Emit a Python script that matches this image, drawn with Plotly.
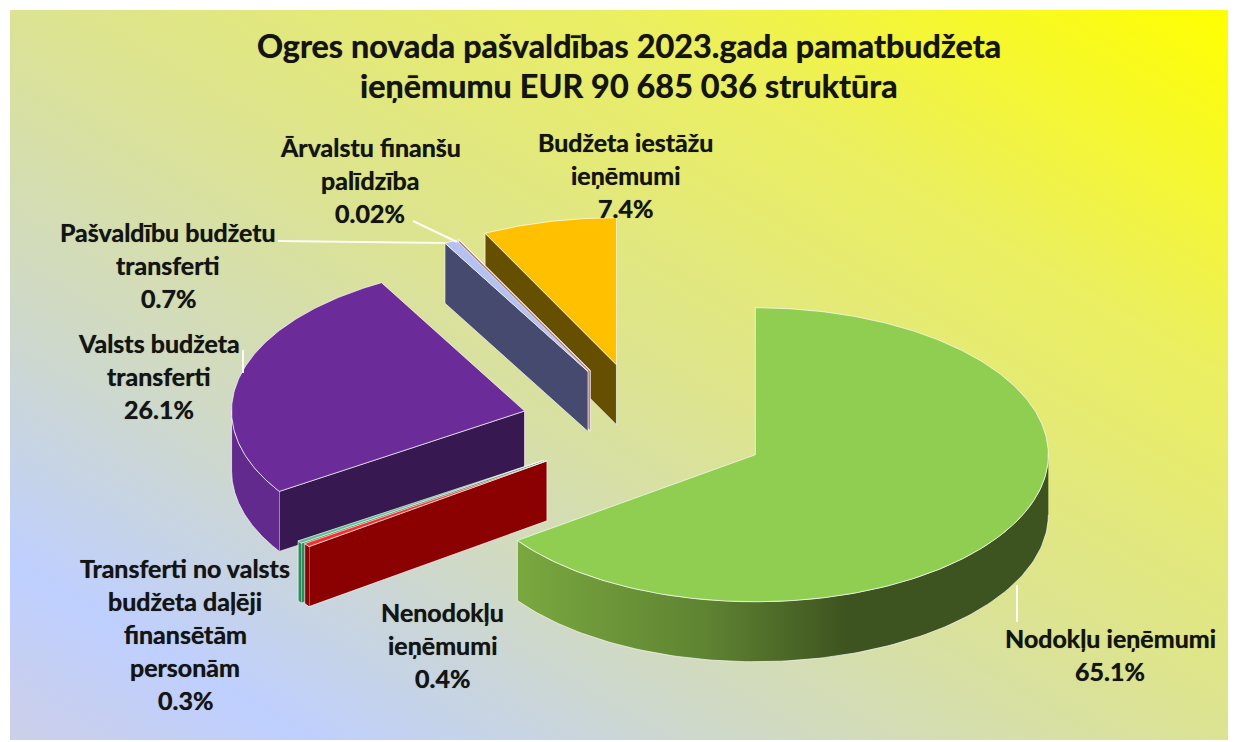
import base64
import numpy as np
import plotly.graph_objects as go

# ---- data (clockwise from 12 o'clock) ----
categories = ["Nodokļu ieņēmumi", "Nenodokļu ieņēmumi",
              "Transferti no valsts budžeta daļēji finansētām personām",
              "Valsts budžeta transferti", "Pašvaldību budžetu transferti",
              "Ārvalstu finanšu palīdzība", "Budžeta iestāžu ieņēmumi"]
percent = [65.1, 0.4, 0.3, 26.1, 0.7, 0.02, 7.4]
explode_scale = [1, 0.965, 0.985, 1, 0.98, 0.98, 1]
top_colors = ["#8fce50", "#ff2b2b", "#5cc08c", "#6b2c9a", "#b4c2f2", "#c89090", "#ffc000"]
face_colors = ["#3e5420", "#8b0000", "#2f8a5c", "#381850", "#464a6e", "#b08080", "#665000"]
rim_colors = ["#7aa83f", "#8b0000", "#2f8a5c", "#622a8c", "#464a6e", "#b08080", "#665000"]
draw_order = [6, 5, 4, 3, 2, 1, 0]

title_lines = ["Ogres novada pašvaldības 2023.gada pamatbudžeta",
               "ieņēmumu EUR 90 685 036 struktūra"]
label_lines = [
    (["Nodokļu ieņēmumi", "65.1%"], 1110, 638),
    (["Nenodokļu", "ieņēmumi", "0.4%"], 442, 612),
    (["Transferti no valsts", "budžeta daļēji", "finansētām", "personām", "0.3%"], 185, 568),
    (["Valsts budžeta", "transferti", "26.1%"], 159, 343),
    (["Pašvaldību budžetu", "transferti", "0.7%"], 168, 232),
    (["Ārvalstu finanšu", "palīdzība", "0.02%"], 370, 147),
    (["Budžeta iestāžu", "ieņēmumi", "7.4%"], 625, 142),
]
leaders = [((1017, 1017), (585, 622)), ((243, 243), (350, 373)),
           ((278, 445), (241, 243)), ((413, 457), (221, 242))]

# ---- projection of the tilted pie ----
CX, CY = 645, 426
RX, RY = 293, 147
EX, EY = 124, 63
DEPTH = 60
LINE = "rgba(255,255,255,0.65)"
TEXT_SHADOW = "0 0 0.7px rgba(20,20,20,0.8)"

fractions = np.array(percent) / sum(percent)
ends = np.cumsum(fractions) * 2 * np.pi
starts = ends - fractions * 2 * np.pi

fig = go.Figure()


def poly(xs, ys, color=None, gradient=None):
    kw = dict(fillgradient=gradient) if gradient else dict(fillcolor=color)
    fig.add_trace(go.Scatter(x=list(xs), y=list(ys), mode="lines", fill="toself",
                             line=dict(color=LINE, width=1), hoverinfo="skip",
                             showlegend=False, **kw))


for i in draw_order:
    a0, a1 = starts[i], ends[i]
    mid = (a0 + a1) / 2
    cx = CX + EX * explode_scale[i] * np.sin(mid)
    cy = CY - EY * explode_scale[i] * np.cos(mid)
    px = lambda a: cx + RX * np.sin(a)
    py = lambda a: cy - RY * np.cos(a)
    # cut face at the start edge
    if np.sin(a0) < 0:
        poly([cx, px(a0), px(a0), cx, cx],
             [cy, py(a0), py(a0) + DEPTH, cy + DEPTH, cy], face_colors[i])
    # cut face at the end edge
    if np.sin(a1) > 0:
        poly([cx, px(a1), px(a1), cx, cx],
             [cy, py(a1), py(a1) + DEPTH, cy + DEPTH, cy], face_colors[i])
    # outer rim, front half only
    r0, r1 = max(a0, np.pi / 2), min(a1, 3 * np.pi / 2)
    if r1 > r0:
        t = np.linspace(r0, r1, 120)
        xs = np.r_[px(t), px(t[::-1])]
        ys = np.r_[py(t), py(t[::-1]) + DEPTH]
        if i == 0:
            poly(xs, ys, gradient=dict(type="horizontal", colorscale=[
                [0, "#7aa83f"], [0.35, "#5f8432"], [0.62, "#3e5420"], [1, "#3e5420"]]))
        else:
            poly(xs, ys, rim_colors[i])
    # top surface
    t = np.linspace(a0, a1, max(3, int((a1 - a0) * 80)))
    poly(np.r_[cx, px(t), cx], np.r_[cy, py(t), cy], top_colors[i])

for lx, ly in leaders:
    fig.add_trace(go.Scatter(x=lx, y=ly, mode="lines", hoverinfo="skip", showlegend=False,
                             line=dict(color="rgba(255,255,255,0.9)", width=2)))

ann = []
for k, line in enumerate(title_lines):
    ann.append(dict(x=629, y=45 + 40 * k, text=line, showarrow=False, xref="x", yref="y",
                    font=dict(family="Lato", size=32.4, color="#141414", weight=700,
                              shadow=TEXT_SHADOW)))
for lines, x, y in label_lines:
    for k, line in enumerate(lines):
        ann.append(dict(x=x, y=y + 33 * k, text=line, showarrow=False, xref="x", yref="y",
                        font=dict(family="Lato", size=25, color="#141414", weight=700,
                                  shadow=TEXT_SHADOW)))

svg = """<svg xmlns="http://www.w3.org/2000/svg" width="1218" height="730" preserveAspectRatio="none">
<defs><linearGradient id="g" x1="0" y1="1" x2="1" y2="0">
<stop offset="0" stop-color="#cccfe8"/><stop offset="0.12" stop-color="#bfcfff"/>
<stop offset="0.3" stop-color="#cfd9c8"/><stop offset="0.52" stop-color="#dde48e"/>
<stop offset="0.75" stop-color="#ebef60"/><stop offset="1" stop-color="#ffff00"/>
</linearGradient></defs><rect width="1218" height="730" fill="url(#g)"/></svg>"""
src = "data:image/svg+xml;base64," + base64.b64encode(svg.encode()).decode()

fig.update_layout(
    width=1235, height=742, margin=dict(l=0, r=0, t=0, b=0),
    paper_bgcolor="white", plot_bgcolor="rgba(0,0,0,0)",
    xaxis=dict(range=[0, 1235], visible=False, fixedrange=True),
    yaxis=dict(range=[742, 0], visible=False, fixedrange=True),
    annotations=ann,
    images=[dict(source=src, xref="paper", yref="paper", x=10 / 1235, y=1 - 10 / 742,
                 sizex=1218 / 1235, sizey=730 / 742, xanchor="left", yanchor="top",
                 sizing="stretch", layer="below")],
)
fig.write_html("out.html", post_script="document.body.style.margin='0';",
               config=dict(displayModeBar=False))
